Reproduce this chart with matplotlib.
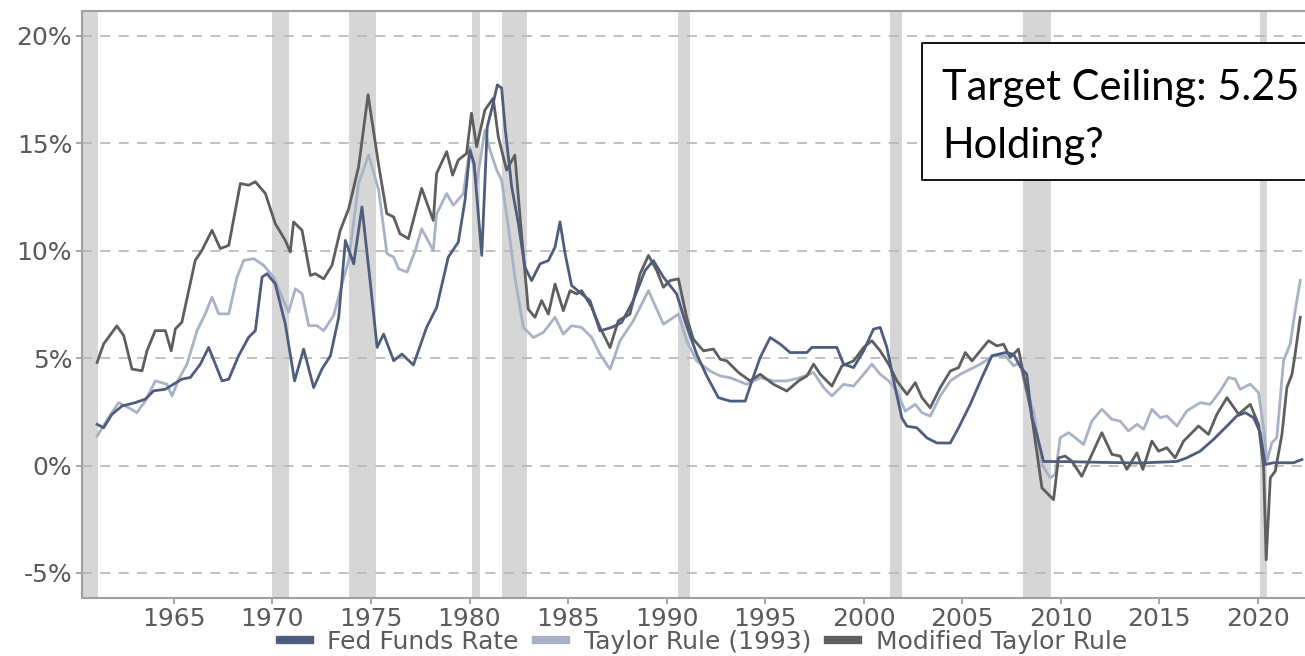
import matplotlib
matplotlib.use("Agg")
import matplotlib.pyplot as plt
from matplotlib.patches import Rectangle
from matplotlib.lines import Line2D

# recession bands (years)
rec_start = [1960.33, 1969.97, 1973.88, 1980.1, 1981.63, 1990.6, 2001.35, 2008.08, 2020.13]
rec_end = [1961.14, 1970.84, 1975.25, 1980.53, 1982.9, 1991.2, 2001.94, 2009.5, 2020.47]

# Fed Funds Rate
ff_t = [1961.1, 1961.43, 1961.85, 1962.36, 1963.04, 1963.55, 1963.97, 1964.56, 1964.98, 1965.4,
        1965.83, 1966.34, 1966.76, 1967.1, 1967.44, 1967.78, 1968.28, 1968.79, 1969.13, 1969.47,
        1969.72, 1970.14, 1970.65, 1971.12, 1971.58, 1972.09, 1972.51, 1972.94, 1973.36, 1973.7,
        1974.12, 1974.54, 1974.97, 1975.31, 1975.64, 1976.15, 1976.57, 1977.15, 1977.82, 1978.33,
        1978.92, 1979.43, 1979.77, 1980.02, 1980.23, 1980.62, 1980.9, 1981.2, 1981.41, 1981.63,
        1981.8, 1982.14, 1982.48, 1982.81, 1983.15, 1983.58, 1984.0, 1984.34, 1984.59, 1984.85,
        1985.18, 1985.69, 1986.11, 1986.62, 1987.21, 1987.72, 1988.31, 1988.91, 1989.33, 1989.84,
        1990.51, 1991.02, 1991.53, 1992.04, 1992.63, 1993.23, 1993.99, 1994.33, 1994.75, 1995.26,
        1995.77, 1996.27, 1997.12, 1997.37, 1998.64, 1998.98, 1999.49, 2000.0, 2000.5, 2000.84,
        2001.18, 2001.6, 2001.94, 2002.2, 2002.7, 2003.21, 2003.72, 2004.4, 2004.82, 2005.41,
        2006.0, 2006.51, 2007.19, 2007.61, 2007.95, 2008.28, 2008.54, 2008.79, 2009.13, 2010.5,
        2012.0, 2014.0, 2015.9, 2016.4, 2017.08, 2017.76, 2018.44, 2018.94, 2019.37, 2019.79,
        2020.13, 2020.38, 2020.8, 2021.82, 2022.24]
ff_v = [1.92, 1.76, 2.38, 2.77, 2.93, 3.09, 3.48, 3.55, 3.79, 4.02,
        4.1, 4.72, 5.5, 4.72, 3.94, 4.02, 5.11, 5.97, 6.28, 8.77,
        8.93, 8.46, 6.59, 3.94, 5.42, 3.63, 4.49, 5.11, 6.9, 10.48,
        9.39, 12.04, 8.46, 5.5, 6.12, 4.88, 5.19, 4.68, 6.43, 7.36,
        9.7, 10.4, 12.35, 14.68, 14.06, 9.78, 15.77, 16.86, 17.72, 17.57,
        15.77, 12.97, 11.26, 9.23, 8.61, 9.39, 9.54, 10.17, 11.34, 9.86,
        8.38, 7.99, 7.68, 6.27, 6.43, 6.66, 7.68, 9.08, 9.54, 8.77,
        7.99, 6.5, 5.18, 4.17, 3.16, 3.0, 3.0, 3.94, 5.03, 5.96,
        5.65, 5.26, 5.26, 5.5, 5.5, 4.72, 4.56, 5.34, 6.35, 6.43,
        5.5, 3.63, 2.22, 1.83, 1.76, 1.29, 1.05, 1.05, 1.76, 2.85,
        4.09, 5.11, 5.26, 5.18, 4.6, 4.25, 2.23, 1.45, 0.19, 0.18,
        0.15, 0.12, 0.19, 0.36, 0.67, 1.22, 1.84, 2.31, 2.46, 2.23,
        1.53, 0.05, 0.13, 0.13, 0.28]

# Taylor Rule (1993)
tr_t = [1961.1, 1961.68, 1962.19, 1962.7, 1963.12, 1963.55, 1964.05, 1964.64, 1964.9, 1965.24,
        1965.66, 1966.17, 1966.59, 1966.93, 1967.27, 1967.78, 1968.2, 1968.54, 1969.05, 1969.55,
        1970.06, 1970.48, 1970.82, 1971.16, 1971.5, 1971.84, 1972.26, 1972.6, 1973.1, 1973.53,
        1973.87, 1974.37, 1974.88, 1975.39, 1975.81, 1976.15, 1976.4, 1976.83, 1977.25, 1977.57,
        1978.16, 1978.33, 1978.84, 1979.18, 1979.69, 1980.02, 1980.36, 1980.78, 1981.04, 1981.38,
        1981.63, 1981.97, 1982.3, 1982.73, 1983.24, 1983.75, 1984.34, 1984.76, 1985.18, 1985.69,
        1986.2, 1986.62, 1987.13, 1987.64, 1988.31, 1989.08, 1989.84, 1990.6, 1991.02, 1991.53,
        1992.21, 1992.72, 1993.23, 1994.07, 1994.75, 1995.43, 1996.1, 1996.78, 1997.46, 1997.97,
        1998.39, 1998.98, 1999.49, 2000.0, 2000.42, 2000.84, 2001.27, 2001.69, 2002.11, 2002.62,
        2002.96, 2003.38, 2003.89, 2004.4, 2004.9, 2005.41, 2005.92, 2006.59, 2007.19, 2007.61,
        2007.95, 2008.2, 2008.62, 2009.05, 2009.47, 2009.72, 2009.98, 2010.4, 2010.74, 2011.16,
        2011.58, 2012.09, 2012.6, 2013.02, 2013.44, 2013.87, 2014.21, 2014.63, 2015.05, 2015.39,
        2015.9, 2016.4, 2017.08, 2017.59, 2018.1, 2018.52, 2018.86, 2019.11, 2019.62, 2020.04,
        2020.3, 2020.47, 2020.72, 2020.97, 2021.31, 2021.65, 2021.9, 2022.16]
tr_v = [1.37, 2.23, 2.93, 2.69, 2.46, 3.01, 3.94, 3.79, 3.24, 4.02,
        4.72, 6.28, 7.06, 7.84, 7.06, 7.06, 8.77, 9.55, 9.63, 9.32,
        8.77, 7.84, 7.14, 8.23, 8.0, 6.51, 6.51, 6.28, 6.98, 8.46,
        9.55, 13.13, 14.46, 12.82, 9.86, 9.7, 9.16, 9.0, 10.02, 11.02,
        10.01, 11.72, 12.66, 12.11, 12.66, 14.84, 13.13, 15.62, 14.68, 13.75,
        13.28, 11.1, 8.77, 6.43, 5.96, 6.2, 6.9, 6.12, 6.51, 6.43,
        5.96, 5.18, 4.48, 5.81, 6.74, 8.14, 6.58, 7.05, 5.81, 4.87,
        4.4, 4.17, 4.09, 3.78, 4.09, 3.94, 3.94, 4.09, 4.33, 3.63,
        3.24, 3.78, 3.7, 4.25, 4.72, 4.25, 3.94, 3.47, 2.53, 2.85,
        2.46, 2.3, 3.24, 3.94, 4.25, 4.48, 4.72, 5.11, 5.11, 4.64,
        4.8, 3.63, 2.54, 0.05, -0.57, -0.41, 1.3, 1.53, 1.3, 0.98,
        2.07, 2.62, 2.15, 2.07, 1.61, 1.92, 1.69, 2.62, 2.23, 2.31,
        1.84, 2.54, 2.93, 2.85, 3.47, 4.1, 4.02, 3.55, 3.79, 3.4,
        1.76, 0.2, 1.06, 1.3, 4.88, 5.66, 7.21, 8.62]

# Modified Taylor Rule
mt_t = [1961.1, 1961.43, 1962.1, 1962.45, 1962.87, 1963.38, 1963.63, 1964.05, 1964.56, 1964.86,
        1965.07, 1965.4, 1966.08, 1966.42, 1966.93, 1967.35, 1967.78, 1968.37, 1968.79, 1969.13,
        1969.64, 1970.14, 1970.65, 1970.9, 1971.07, 1971.5, 1971.92, 1972.17, 1972.6, 1973.02,
        1973.44, 1973.87, 1974.37, 1974.85, 1975.4, 1975.8, 1976.15, 1976.47, 1976.9, 1977.57,
        1978.16, 1978.33, 1978.84, 1979.14, 1979.43, 1979.85, 1980.1, 1980.36, 1980.78, 1981.2,
        1981.46, 1981.88, 1982.3, 1982.65, 1982.98, 1983.32, 1983.66, 1984.0, 1984.34, 1984.76,
        1985.1, 1985.44, 1985.69, 1986.2, 1986.62, 1987.13, 1987.55, 1988.14, 1988.65, 1989.08,
        1989.5, 1989.84, 1990.18, 1990.6, 1991.02, 1991.36, 1991.87, 1992.38, 1992.72, 1993.06,
        1993.65, 1994.24, 1994.75, 1995.43, 1996.1, 1996.7, 1997.12, 1997.46, 1997.8, 1998.39,
        1998.9, 1999.49, 2000.0, 2000.42, 2000.84, 2001.27, 2001.69, 2002.2, 2002.62, 2002.96,
        2003.38, 2003.89, 2004.4, 2004.82, 2005.16, 2005.5, 2005.92, 2006.34, 2006.76, 2007.1,
        2007.44, 2007.86, 2008.11, 2008.5, 2009.05, 2009.38, 2009.64, 2009.89, 2010.23, 2010.57,
        2011.07, 2011.5, 2012.09, 2012.6, 2013.02, 2013.36, 2013.87, 2014.17, 2014.63, 2014.97,
        2015.39, 2015.81, 2016.24, 2017.0, 2017.5, 2017.93, 2018.44, 2019.03, 2019.62, 2020.04,
        2020.3, 2020.43, 2020.64, 2020.89, 2021.23, 2021.48, 2021.74, 2021.9, 2022.16]
mt_v = [4.8, 5.66, 6.5, 6.05, 4.49, 4.41, 5.34, 6.28, 6.28, 5.34,
        6.36, 6.67, 9.55, 10.02, 10.95, 10.1, 10.25, 13.13, 13.05, 13.21,
        12.66, 11.26, 10.48, 9.94, 11.34, 10.95, 8.85, 8.93, 8.69, 9.32,
        10.95, 11.96, 13.91, 17.26, 13.91, 11.73, 11.57, 10.79, 10.56, 12.9,
        11.41, 13.6, 14.61, 13.52, 14.22, 14.53, 16.4, 14.84, 16.55, 17.1,
        15.3, 13.75, 14.45, 10.63, 7.28, 6.9, 7.68, 7.05, 8.45, 7.21,
        8.14, 7.99, 8.14, 7.36, 6.43, 5.49, 6.74, 7.05, 8.92, 9.78,
        9.08, 8.3, 8.61, 8.69, 6.9, 5.88, 5.34, 5.42, 4.95, 4.87,
        4.33, 3.94, 4.25, 3.78, 3.47, 3.94, 4.17, 4.72, 4.25, 3.7,
        4.64, 4.87, 5.5, 5.81, 5.34, 4.72, 3.94, 3.31, 3.86, 3.16,
        2.69, 3.63, 4.4, 4.56, 5.26, 4.87, 5.34, 5.81, 5.57, 5.65,
        5.03, 5.42, 4.25, 2.5, -1.04, -1.35, -1.59, 0.36, 0.44, 0.2,
        -0.5, 0.36, 1.53, 0.52, 0.44, -0.18, 0.59, -0.18, 1.14, 0.67,
        0.83, 0.36, 1.14, 1.84, 1.45, 2.39, 3.16, 2.39, 2.85, 1.92,
        -0.1, -4.39, -0.57, -0.26, 1.45, 3.63, 4.25, 5.19, 6.9]

y_ticks = [-5, 0, 5, 10, 15, 20]
x_ticks = [1965, 1970, 1975, 1980, 1985, 1990, 1995, 2000, 2005, 2010, 2015, 2020]
labels = ["Fed Funds Rate", "Taylor Rule (1993)", "Modified Taylor Rule"]
box_lines = ["Target Ceiling: 5.25", "Holding?"]

plt.rcParams['font.family'] = ['DejaVu Sans']

fig = plt.figure(figsize=(13.05, 6.56), dpi=100)
ax = fig.add_axes([0.0628, 0.0889, 0.9372, 0.8944])

for s, e in zip(rec_start, rec_end):
    ax.axvspan(s, e, color='#d6d6d6', lw=0, zorder=0)

for v in y_ticks:
    ax.axhline(v, color='#b5b5b5', lw=1.2, ls=(0, (6, 5)), zorder=1)

ax.plot(tr_t, tr_v, color='#a7b2c7', lw=2.0, zorder=2, label=labels[1])
ax.plot(mt_t, mt_v, color='#5e5e5e', lw=2.0, zorder=3, label=labels[2])
ax.plot(ff_t, ff_v, color='#4e5d7e', lw=2.0, zorder=4, label=labels[0])

ax.set_xlim(1960.33, 2022.4)
ax.set_ylim(-6.15, 21.16)
ax.set_xticks(x_ticks)
ax.set_yticks(y_ticks)
ax.set_yticklabels([f"{v}%" for v in y_ticks])
ax.tick_params(axis='both', labelsize=18, colors='#9a9a9a', labelcolor='#5a5a5a',
               length=4, width=1.2, pad=3)
for side in ['left', 'top', 'bottom']:
    ax.spines[side].set_color('#a0a0a0')
    ax.spines[side].set_linewidth(1.5)
ax.spines['right'].set_visible(False)

handles, labs = ax.get_legend_handles_labels()
order = [2, 0, 1]
leg = fig.legend([handles[i] for i in order], [labs[i] for i in order],
                 loc='center', bbox_to_anchor=(0.539, 0.022), ncol=3, frameon=False,
                 fontsize=18, handlelength=1.2, handletextpad=0.7, columnspacing=0.7,
                 labelcolor='#5a5a5a')
for h in leg.legend_handles:
    h.set_linewidth(6)

# annotation box, open on the right (it runs off the figure edge)
bx0, bx1 = 922 / 1305, 1.05
by0, by1 = (656 - 180) / 656, (656 - 43) / 656
fig.patches.append(Rectangle((bx0, by0), bx1 - bx0, by1 - by0, transform=fig.transFigure,
                             facecolor='white', edgecolor='none', zorder=10))
fig.lines.append(Line2D([bx1, bx0, bx0, bx1], [by1, by1, by0, by0], transform=fig.transFigure,
                        color='black', lw=1.3, zorder=11))
fig.text(942 / 1305, (656 - 100) / 656, box_lines[0], fontsize=30, family='Lato',
         va='baseline', ha='left', color='black', zorder=12)
fig.text(942 / 1305, (656 - 158) / 656, box_lines[1], fontsize=30, family='Lato',
         va='baseline', ha='left', color='black', zorder=12)

fig.savefig("out.png", dpi=100)
